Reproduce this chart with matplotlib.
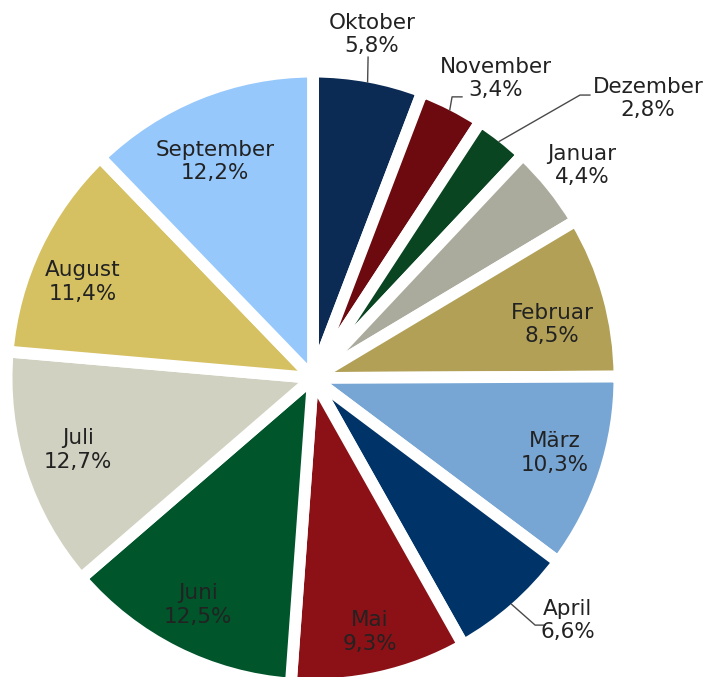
import numpy as np
import matplotlib
matplotlib.use('Agg')
import matplotlib.pyplot as plt

# Daten
monate = ['Oktober', 'November', 'Dezember', 'Januar', 'Februar', 'März',
          'April', 'Mai', 'Juni', 'Juli', 'August', 'September']
anteile = [5.8, 3.4, 2.8, 4.4, 8.5, 10.3, 6.6, 9.3, 12.5, 12.7, 11.4, 12.2]
farben = ['#0b2b55', '#6d0a10', '#0a4522', '#abab9d', '#b2a057', '#77a6d4',
          '#003469', '#8b1116', '#00552b', '#d1d1c1', '#d5c062', '#96c8fc']

# Position der Beschriftungen (Radius 1 = Tortenrand)
textpos = {
    'Oktober': (0.196, 1.140), 'November': (0.608, 0.995),
    'Dezember': (1.113, 0.928), 'Januar': (0.894, 0.706),
    'Februar': (0.794, 0.179), 'März': (0.804, -0.249),
    'April': (0.847, -0.805), 'Mai': (0.189, -0.844),
    'Juni': (-0.382, -0.754), 'Juli': (-0.781, -0.239),
    'August': (-0.764, 0.319), 'September': (-0.326, 0.718),
}
# Knickpunkte der Hinweislinien
knicke = {
    'Oktober': [(0.183, 1.066)],
    'November': [(0.462, 0.934), (0.495, 0.934)],
    'Dezember': [(0.887, 0.940), (0.920, 0.940)],
    'April': [(0.738, -0.821), (0.771, -0.821)],
}

fig = plt.figure(figsize=(7.08, 6.77), dpi=100)
ax = fig.add_axes([0, 0, 1, 1])

wedges, _ = ax.pie(anteile, colors=farben, startangle=90, counterclock=False,
                   radius=1.018, normalize=True,
                   wedgeprops=dict(edgecolor='white', linewidth=8.5))

textfarbe = '#222222'
for w, m, a in zip(wedges, monate, anteile):
    winkel = np.deg2rad((w.theta1 + w.theta2) / 2)
    txt = m + '\n' + ('%.1f' % a).replace('.', ',') + '%'
    if m in knicke:
        xs = [np.cos(winkel)] + [k[0] for k in knicke[m]]
        ys = [np.sin(winkel)] + [k[1] for k in knicke[m]]
        ax.plot(xs, ys, color='#4a4a4a', lw=1)
    x, y = textpos[m]
    ax.text(x, y, txt, ha='center', va='center', fontsize=15.5, color=textfarbe)

ax.set_xlim(-313 / 301, (708 - 313) / 301)
ax.set_ylim(-(677 - 378) / 301, 378 / 301)
ax.axis('off')

fig.savefig('out.png', dpi=100)
